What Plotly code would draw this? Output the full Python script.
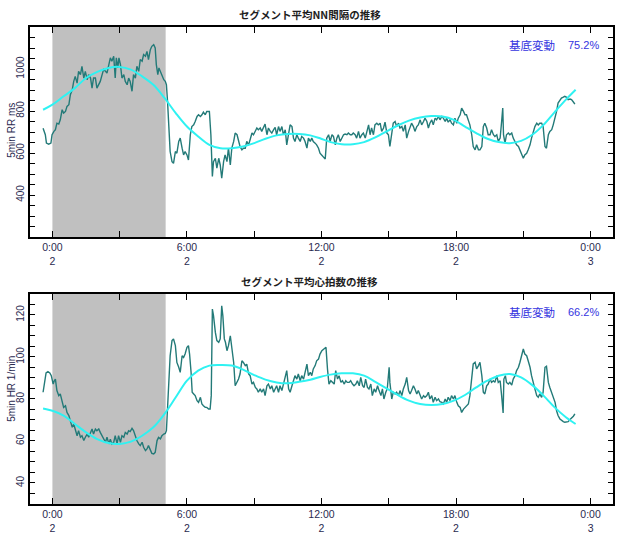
import plotly.graph_objects as go
from plotly.subplots import make_subplots

# ---- 5-minute segment averages (time in minutes from 0:00 of day 2) ----
rr_time = [
    -25, -19, -16, -10, -4, -1, 4, 8, 12, 17,
    21, 26, 30, 35, 39, 44, 48, 53, 57, 61,
    66, 70, 75, 79, 84, 88, 93, 97, 102, 106,
    110, 115, 119, 124, 128, 133, 137, 142, 146, 151,
    155, 159, 164, 168, 171, 175, 178, 182, 186, 191,
    195, 200, 204, 208, 213, 217, 222, 226, 231, 235,
    240, 244, 249, 253, 257, 262, 266, 271, 275, 278,
    282, 285, 289, 293, 298, 302, 305, 308, 312, 315,
    320, 324, 329, 333, 338, 342, 347, 351, 355, 360,
    364, 369, 373, 378, 382, 387, 391, 396, 400, 404,
    409, 413, 418, 420, 424, 428, 431, 436, 440, 445,
    449, 453, 458, 462, 467, 471, 476, 480, 485, 489,
    494, 498, 502, 507, 511, 516, 520, 525, 529, 534,
    538, 543, 547, 551, 556, 560, 565, 569, 574, 578,
    583, 587, 592, 596, 600, 605, 609, 614, 618, 623,
    627, 632, 636, 641, 645, 649, 654, 658, 663, 667,
    672, 676, 681, 685, 690, 694, 698, 703, 707, 712,
    716,
    724, 730, 734, 739, 743, 748, 752, 757, 761, 765,
    770, 774, 779, 783, 788, 792, 797, 801, 805, 810,
    814, 819, 823, 828, 832, 837, 841, 846, 850, 854,
    859, 863, 868, 872, 877, 881, 886, 890, 895, 899,
    903, 908, 912, 917, 921, 926, 930, 935, 939, 944,
    948, 953, 957, 961, 966, 970, 975, 979, 984, 988,
    993, 997, 1002, 1006, 1010, 1015, 1019, 1024, 1028, 1033,
    1037, 1042, 1046, 1051, 1055, 1059, 1064, 1068, 1073, 1077,
    1082, 1086, 1091, 1095, 1100, 1104, 1108, 1113, 1117, 1122,
    1126, 1131, 1135, 1140, 1144, 1149, 1153, 1157, 1162, 1166,
    1171, 1175, 1180, 1184, 1189, 1193, 1198, 1202, 1205, 1207,
    1211, 1215, 1220, 1224, 1229, 1233, 1238, 1242, 1247, 1251,
    1255, 1260, 1264, 1269, 1273, 1278, 1282, 1287, 1291, 1296,
    1300, 1304, 1309, 1313, 1318, 1322, 1327, 1331, 1336, 1340,
    1345, 1349, 1353, 1358, 1362, 1367, 1371, 1376, 1380, 1385,
    1389, 1394, 1398,
]
rr_ms = [
    718, 687, 647, 642, 647, 687, 703, 711, 742, 738,
    758, 806, 790, 798, 822, 830, 878, 901, 941, 965,
    933, 989, 973, 1013, 957, 989, 949, 973, 957, 909,
    957, 957, 909, 925, 941, 973, 997, 989, 981, 1021,
    1053, 1037, 1061, 957, 1053, 1005, 1053, 1021, 957, 973,
    941, 925, 957, 941, 894, 973, 957, 1013, 989, 1045,
    1037, 1069, 1061, 1084, 1045, 1092, 1108, 1116, 1100, 1021,
    973, 1005, 989, 965, 949, 941, 925, 846, 718, 607,
    559, 551, 607, 599, 655, 671, 623, 591, 607, 591,
    567, 687, 726, 734, 750, 774, 782, 774, 782, 795,
    782, 798, 798, 798, 687, 488, 559, 575, 528, 575,
    543, 480, 559, 591, 559, 623, 543, 623, 655, 695,
    687, 663, 631, 615, 623, 623, 655, 639, 671, 695,
    687, 703, 719, 711, 719, 703, 719, 738, 687, 719,
    703, 695, 711, 722, 687, 726, 703, 726, 687, 711,
    639, 687, 734, 726, 671, 655, 687, 671, 655, 679,
    671, 655, 623, 671, 655, 671, 655, 647, 639, 623,
    599,
    583, 572, 671, 687, 655, 687, 679, 639, 671, 687,
    655, 671, 687, 690, 687, 695, 687, 687, 695, 687,
    671, 703, 671, 687, 695, 671, 703, 734, 687, 719,
    687, 734, 742, 734, 742, 703, 719, 747, 695, 687,
    631, 687, 742, 750, 726, 742, 719, 726, 703, 734,
    671, 703, 726, 742, 726, 703, 726, 734, 758, 734,
    750, 766, 750, 719, 742, 758, 734, 766, 758, 774,
    758, 774, 766, 750, 766, 747, 758, 742, 734, 766,
    742, 766, 782, 814, 798, 782, 782, 758, 734, 687,
    631, 615, 639, 615, 615, 631, 726, 742, 719, 687,
    687, 711, 687, 679, 687, 655, 671, 750, 814, 687,
    647, 687, 695, 687, 695, 671, 655, 639, 631, 615,
    599, 575, 591, 599, 615, 639, 671, 703, 726, 742,
    734, 742, 742, 726, 631, 623, 687, 703, 711, 734,
    766, 798, 838, 854, 862, 866, 870, 865, 854, 857,
    854, 843, 833,
]

hr_time = [
    -25, -21, -17, -12, -7, -3, 2, 5, 8, 12,
    17, 21, 26, 30, 35, 39, 44, 48, 53, 57,
    61, 66, 70, 75, 79, 84, 88, 93, 97, 102,
    106, 110, 115, 119, 124, 128, 133, 137, 142, 146,
    151, 155, 159, 164, 168, 173, 177, 182, 186, 191,
    195, 200, 204, 208, 213, 217, 222, 226, 231, 235,
    240, 244, 249, 253, 257, 262, 266, 271, 275, 280,
    284, 289, 293, 298, 302, 305, 308, 311, 315, 320,
    324, 329, 333, 338, 342, 347, 351, 355, 360, 364,
    367, 371, 374, 378, 382, 387, 391, 396, 400, 404,
    409, 413, 418, 422, 425, 428, 431, 436, 440, 445,
    449, 453, 456, 460, 463, 467, 471, 476, 480, 485,
    489, 494, 498, 502, 507, 511, 516, 520, 525, 529,
    534, 538, 543, 547, 551, 556, 560, 565, 569, 574,
    578, 583, 587, 592, 596, 600, 605, 609, 614, 618,
    623, 627, 632, 636, 641, 645, 649, 654, 658, 663,
    667, 672, 676, 681, 685, 690, 694, 698, 703, 707,
    712, 716,
    721, 727, 732, 736, 740, 745, 749, 754, 758, 763,
    767, 772, 776, 781, 785, 789, 794, 798, 803, 807,
    812, 816, 821, 825, 830, 834, 838, 843, 847, 852,
    856, 861, 865, 870, 874, 879, 883, 887, 892, 896,
    901, 903, 908, 912, 917, 921, 926, 930, 935, 939,
    944, 948, 953, 957, 961, 966, 970, 975, 979, 984,
    988, 993, 997, 1002, 1006, 1010, 1015, 1019, 1024, 1028,
    1033, 1037, 1042, 1046, 1051, 1055, 1059, 1064, 1068, 1073,
    1077, 1082, 1086, 1091, 1095, 1100, 1104, 1108, 1113, 1117,
    1122, 1126, 1131, 1135, 1140, 1144, 1149, 1153, 1157, 1162,
    1166, 1171, 1175, 1180, 1184, 1189, 1193, 1198, 1202, 1206,
    1208, 1212, 1215, 1220, 1224, 1229, 1233, 1238, 1242, 1247,
    1251, 1255, 1260, 1264, 1269, 1273, 1278, 1282, 1287, 1291,
    1296, 1300, 1304, 1309, 1313, 1318, 1322, 1327, 1331, 1336,
    1340, 1345, 1349, 1353, 1358, 1362, 1367, 1371, 1376, 1380,
    1385, 1389, 1394, 1398,
]
hr_bpm = [
    83.2, 87.9, 92.4, 93.0, 92.4, 91.1, 87.1, 88.7, 89.5, 84.0,
    81.6, 82.4, 78.4, 76.0, 76.8, 73.6, 72.1, 69.7, 66.5, 68.1,
    65.7, 62.5, 64.9, 61.8, 62.5, 60.2, 61.8, 63.3, 61.8, 64.1,
    65.7, 63.3, 65.7, 64.9, 65.7, 64.1, 62.5, 60.9, 59.4, 61.8,
    58.6, 60.9, 58.6, 59.4, 62.5, 58.6, 62.5, 59.4, 62.5, 61.8,
    64.1, 63.3, 64.9, 64.5, 66.0, 65.0, 61.7, 60.2, 58.6, 57.8,
    59.4, 57.0, 55.4, 56.2, 57.8, 55.4, 54.1, 53.8, 54.6, 60.2,
    61.7, 61.0, 62.5, 63.3, 63.6, 64.9, 76.8, 92.7, 100.6, 107.8,
    108.6, 105.4, 97.4, 95.1, 92.7, 100.6, 99.8, 101.4, 104.6, 105.4,
    101.4, 92.7, 83.2, 82.4, 81.6, 79.2, 78.4, 80.8, 77.6, 76.8,
    76.0, 76.0, 75.2, 75.2, 81.6, 122.8, 119.7, 111.7, 107.8, 107.0,
    108.6, 124.4, 119.7, 108.6, 107.0, 103.0, 105.4, 110.1, 105.4, 97.4,
    86.3, 87.9, 89.5, 91.9, 98.2, 97.4, 95.9, 96.6, 91.9, 91.1,
    87.1, 87.9, 85.5, 84.8, 83.2, 84.8, 83.2, 84.8, 81.6, 86.3,
    87.1, 84.8, 86.3, 83.2, 84.8, 86.3, 83.2, 86.3, 84.0, 87.1,
    91.1, 93.5, 84.8, 83.2, 86.3, 89.5, 91.1, 89.5, 91.9, 88.7,
    91.1, 89.5, 92.7, 96.6, 91.1, 92.7, 91.1, 94.3, 95.9, 98.2,
    99.0, 101.4,
    103.0, 103.8, 104.6, 94.3, 87.1, 88.7, 87.9, 87.1, 93.5, 89.5,
    91.1, 87.9, 88.7, 87.1, 88.7, 87.9, 87.9, 88.7, 87.1, 86.3,
    87.1, 88.7, 86.3, 90.3, 86.3, 85.5, 89.5, 85.5, 84.8, 87.1,
    81.6, 84.8, 83.2, 86.3, 84.0, 81.6, 84.8, 80.0, 83.2, 84.8,
    95.1, 87.9, 80.0, 83.2, 82.4, 83.2, 81.6, 84.0, 81.6, 84.8,
    87.1, 90.3, 84.0, 82.4, 84.0, 86.3, 84.8, 82.4, 84.0, 81.6,
    80.0, 81.6, 80.8, 81.6, 83.2, 80.0, 81.6, 78.4, 80.8, 79.2,
    80.0, 78.7, 78.4, 77.6, 80.0, 78.4, 80.8, 79.2, 81.6, 80.0,
    81.6, 78.4, 76.8, 76.0, 73.6, 75.2, 76.0, 76.8, 77.6, 81.6,
    91.1, 96.7, 97.5, 94.3, 95.9, 97.5, 91.1, 83.2, 82.4, 86.3,
    87.1, 89.5, 87.9, 88.7, 87.9, 91.1, 87.9, 88.7, 81.6, 73.3,
    89.5, 91.1, 87.9, 87.1, 87.9, 86.6, 89.5, 91.1, 93.5, 95.1,
    97.5, 100.6, 103.8, 101.4, 100.6, 98.2, 95.1, 91.1, 87.1, 84.8,
    81.6, 80.8, 82.4, 80.8, 83.2, 95.1, 95.6, 87.9, 85.5, 83.2,
    80.8, 78.4, 74.4, 72.1, 70.5, 69.7, 69.2, 68.9, 68.9, 69.2,
    70.2, 70.8, 71.8, 72.9,
]

# ---- fitted circadian (baseline) curves ----
fit_time = [-25, 0, 30, 60, 90, 120, 150, 180, 210, 240, 270, 300, 330, 360,
            390, 420, 450, 480, 510, 540, 570, 600, 630, 660, 690, 716, 744,
            774, 804, 834, 864, 894, 924, 954, 984, 1014, 1044, 1074, 1104,
            1134, 1164, 1194, 1224, 1254, 1284, 1314, 1344, 1374, 1400]
rr_fit = [806, 830, 870, 909, 957, 986, 1005, 1010, 997, 965, 925, 862, 790, 726,
          679, 639, 623, 623, 631, 647, 668, 684, 691, 691, 684, 670, 652,
          642, 642, 652, 674, 703, 731, 754, 769, 776, 774, 758, 726,
          695, 668, 652, 647, 658, 687, 734, 795, 854, 901]
hr_fit = [75.5, 74.4, 72.1, 68.1, 64.1, 60.9, 59.0, 58.6, 59.7, 62.5, 66.5, 72.9, 80.8, 88.7,
          93.5, 95.9, 96.2, 95.9, 94.0, 91.4, 89.2, 87.9, 87.5, 88.2, 89.2, 90.5, 91.6,
          92.2, 92.2, 91.1, 88.2, 85.1, 81.9, 79.2, 77.6, 77.1, 77.6, 79.2, 81.9,
          85.5, 88.7, 91.1, 91.9, 90.3, 86.6, 81.6, 76.0, 71.3, 68.1]

# sleep period (minutes) and baseline-variation ratios
sleep_span = [0, 303]
rr_ratio = "75.2%"
hr_ratio = "66.2%"

tick_pos = [0, 360, 720, 1080, 1440]
tick_text = ["0:00<br>2", "6:00<br>2", "12:00<br>2", "18:00<br>2", "0:00<br>3"]
rr_ticks = [400, 600, 800, 1000]
hr_ticks = [40, 60, 80, 100, 120]

TRACE = "#237a78"
FIT = "#2ef2f2"
LABEL = "#2a2a50"
FONT = "Liberation Sans, Noto Sans CJK JP, sans-serif"
CJK = "Noto Sans CJK JP, sans-serif"

fig = make_subplots(rows=2, cols=1)

for row, (tx, ty, fy) in enumerate([(rr_time, rr_ms, rr_fit), (hr_time, hr_bpm, hr_fit)], start=1):
    fig.add_trace(go.Scatter(x=tx, y=ty, mode="lines",
                             line=dict(color=TRACE, width=1.4), showlegend=False),
                  row=row, col=1)
    fig.add_trace(go.Scatter(x=fit_time, y=fy, mode="lines",
                             line=dict(color=FIT, width=2, shape="spline"), showlegend=False),
                  row=row, col=1)

xaxis_style = dict(
    range=[-60, 1500], tickmode="array", tickvals=tick_pos, ticktext=tick_text,
    ticks="inside", ticklen=6, tickwidth=1.3, tickcolor="black",
    minor=dict(tickmode="linear", tick0=0, dtick=180, ticks="inside",
               ticklen=6, tickwidth=1.3, tickcolor="black"),
    showline=True, linecolor="black", linewidth=1.5, mirror="ticks",
    showgrid=False, zeroline=False, automargin=False,
    tickfont=dict(family=FONT, size=10.5, color=LABEL),
)

def yaxis_style(rng, ticks, step):
    return dict(
        range=rng, tickmode="array", tickvals=ticks,
        ticks="inside", ticklen=5, tickwidth=1.3, tickcolor="black",
        minor=dict(tickmode="linear", tick0=0, dtick=step, ticks="inside",
                   ticklen=5, tickwidth=1.3, tickcolor="black"),
        showline=True, linecolor="black", linewidth=1.5, mirror="ticks",
        showgrid=False, zeroline=False, tickangle=-90, automargin=False,
        tickfont=dict(family=FONT, size=10, color=LABEL),
    )

fig.update_layout(
    width=623, height=533,
    margin=dict(l=30, r=10, t=27, b=29, autoexpand=False),
    paper_bgcolor="white", plot_bgcolor="white",
    xaxis=dict(domain=[0, 1], **xaxis_style),
    xaxis2=dict(domain=[0, 1], **xaxis_style),
    yaxis=dict(domain=[0.5597, 1], **yaxis_style([200, 1200], rr_ticks, 50)),
    yaxis2=dict(domain=[0, 0.4403], **yaxis_style([30, 130], hr_ticks, 5)),
)

for xr, yr in (("x", "y domain"), ("x2", "y2 domain")):
    fig.add_shape(type="rect", xref=xr, yref=yr, x0=sleep_span[0], x1=sleep_span[1],
                  y0=0, y1=1, fillcolor="#c0c0c0", line=dict(width=0), layer="below")

TITLE_FONT = dict(family=CJK, size=10.5, color="#1e1e1e", weight="bold")
NOTE_FONT = dict(family=CJK, size=11.5, color="#3434e0")
notes = [
    dict(text="セグメント平均NN間隔の推移", x=0.48, y=1.027, font=TITLE_FONT),
    dict(text="セグメント平均心拍数の推移", x=0.48, y=0.4675, font=TITLE_FONT),
    dict(text="基底変動", x=0.9044, y=0.962, xanchor="right", font=NOTE_FONT),
    dict(text=rr_ratio, x=0.98, y=0.962, xanchor="right", font=dict(family=FONT, size=11, color="#3434e0")),
    dict(text="基底変動", x=0.9044, y=0.403, xanchor="right", font=NOTE_FONT),
    dict(text=hr_ratio, x=0.98, y=0.403, xanchor="right", font=dict(family=FONT, size=11, color="#3434e0")),
    dict(text="5min RR ms", x=-0.033, y=0.784, textangle=-90, font=dict(family=FONT, size=10, color=LABEL)),
    dict(text="5min HR 1/min", x=-0.033, y=0.241, textangle=-90, font=dict(family=FONT, size=10, color=LABEL)),
]
for n in notes:
    n.setdefault("xanchor", "center")
    fig.add_annotation(xref="paper", yref="paper", showarrow=False, yanchor="middle", **n)

fig.write_html("out.html")
